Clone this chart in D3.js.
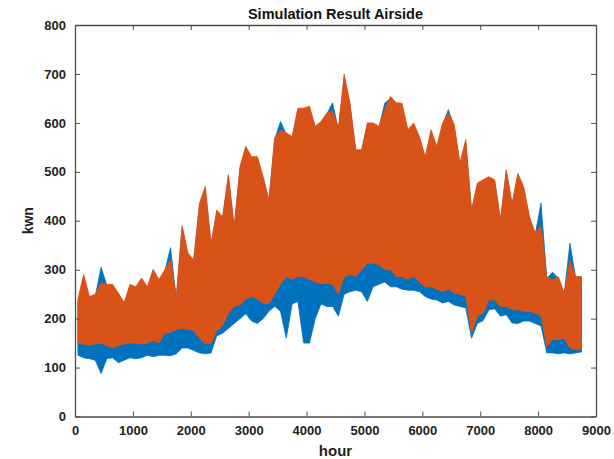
<!DOCTYPE html>
<html>
<head>
<meta charset="utf-8">
<script src="https://cdn.jsdelivr.net/npm/d3@7"></script>
<style>
  html, body { margin: 0; padding: 0; background: #fff; }
  svg { display: block; font-family: "Liberation Sans", Arial, sans-serif; }
</style>
</head>
<body>
<svg id="chart" width="614" height="459"></svg>
<script>
// Hourly load, summarised per 100-hour block (block start hour = index * 100)
const blockHours = 100;

// Simulated airside load (orange): block high and low, kWh
const simHigh = [
  240, 290, 245, 250, 273, 270, 270, 252, 233, 270, 265, 283, 265, 300, 280,
  300, 320, 245, 390, 334, 320, 436, 470, 354, 422, 408, 494, 388, 511, 552,
  531, 531, 490, 443, 570, 585, 580, 572, 630, 630, 634, 593, 603, 620, 625,
  590, 700, 641, 545, 545, 600, 600, 593, 627, 654, 641, 640, 586, 600, 572,
  531, 586, 552, 600, 620, 597, 518, 566, 422, 477, 484, 490, 484, 402, 504,
  436, 497, 470, 409, 375, 390, 286, 279, 286, 252, 320, 286, 286
];
const simLow = [
  150, 148, 145, 148, 150, 145, 140, 145, 148, 150, 150, 148, 150, 155, 150,
  170, 172, 178, 180, 178, 175, 160, 148, 150, 175, 185, 211, 225, 228, 240,
  245, 240, 231, 231, 250, 270, 286, 280, 286, 286, 280, 275, 272, 272, 270,
  250, 285, 290, 286, 300, 313, 313, 310, 300, 300, 286, 286, 280, 286, 275,
  265, 265, 260, 255, 260, 252, 250, 245, 170, 205, 211, 238, 238, 225, 225,
  218, 218, 215, 215, 211, 205, 143, 157, 157, 160, 140, 136, 138
];

// Measured airside load (blue): block high and low, kWh
const refHigh = [
  232, 285, 240, 245, 305, 268, 265, 250, 230, 268, 262, 280, 262, 300, 276,
  296, 345, 240, 385, 330, 318, 430, 465, 350, 418, 404, 490, 385, 505, 548,
  528, 528, 486, 440, 566, 603, 576, 568, 626, 628, 630, 590, 600, 618, 641,
  586, 690, 636, 542, 540, 596, 596, 590, 640, 650, 636, 632, 582, 596, 568,
  528, 580, 548, 596, 627, 592, 515, 560, 420, 472, 480, 486, 480, 400, 500,
  432, 492, 466, 405, 372, 436, 282, 295, 282, 250, 354, 282, 282
];
const refLow = [
  125, 120, 118, 115, 88, 118, 120, 110, 115, 120, 118, 120, 125, 122, 125,
  125, 124, 128, 140, 140, 135, 130, 128, 130, 165, 170, 180, 190, 200, 210,
  195, 190, 200, 215, 225, 215, 160, 230, 235, 150, 150, 200, 230, 225, 225,
  205, 250, 255, 258, 255, 235, 265, 270, 275, 265, 265, 260, 258, 258, 255,
  245, 240, 238, 232, 235, 228, 225, 222, 160, 190, 196, 218, 220, 205, 208,
  191, 190, 195, 195, 190, 185, 130, 130, 128, 130, 128, 130, 132
];

const xTicks = [0, 1000, 2000, 3000, 4000, 5000, 6000, 7000, 8000, 9000];
const yTicks = [0, 100, 200, 300, 400, 500, 600, 700, 800];

const chartTitle = "Simulation Result Airside";
const xTitle = "hour";
const yTitle = "kwn";

const margin = { left: 75, right: 18, top: 25, bottom: 42.5 };
const W = 614, H = 459;
const svg = d3.select("#chart");

const x = d3.scaleLinear().domain([0, 9000]).range([margin.left, W - margin.right]);
const y = d3.scaleLinear().domain([0, 800]).range([H - margin.bottom, margin.top]);

function blocks(hi, lo) {
  return hi.map((h, i) => ({ t: i * blockHours, hi: h, lo: lo[i] }));
}

// Low-to-high band through each block's midpoint
function drawSeries(data, color) {
  const area = d3.area()
    .x(d => x(d.t + blockHours / 2))
    .y0(d => y(d.lo))
    .y1(d => y(d.hi));
  svg.append("path").datum(data)
    .attr("d", area)
    .attr("fill", color)
    .attr("stroke", color)
    .attr("stroke-width", 0.8)
    .attr("stroke-linejoin", "miter");
}

drawSeries(blocks(refHigh, refLow), "#0072BD");
drawSeries(blocks(simHigh, simLow), "#D95319");

// Box axes, ticks pointing inward on all sides
const axisColor = "#4d4d4d";
const tickLen = 5;
const gAx = svg.append("g");
const fmt = d3.format("d");

const xAxisB = d3.axisBottom(x).tickValues(xTicks).tickFormat(fmt).tickSizeInner(-tickLen).tickSizeOuter(0).tickPadding(9);
const gxb = gAx.append("g").attr("transform", `translate(0,${y(0)})`).call(xAxisB);
const xAxisT = d3.axisTop(x).tickValues(xTicks).tickSizeInner(-tickLen).tickSizeOuter(0).tickFormat("");
const gxt = gAx.append("g").attr("transform", `translate(0,${y(800)})`).call(xAxisT);
const yAxisL = d3.axisLeft(y).tickValues(yTicks).tickFormat(fmt).tickSizeInner(-tickLen).tickSizeOuter(0).tickPadding(9);
const gyl = gAx.append("g").attr("transform", `translate(${x(0)},0)`).call(yAxisL);
const yAxisR = d3.axisRight(y).tickValues(yTicks).tickSizeInner(-tickLen).tickSizeOuter(0).tickFormat("");
const gyr = gAx.append("g").attr("transform", `translate(${x(9000)},0)`).call(yAxisR);

[gxb, gxt, gyl, gyr].forEach(g => {
  g.selectAll(".domain").attr("stroke", axisColor).attr("stroke-width", 1.3);
  g.selectAll(".tick line").attr("stroke", axisColor).attr("stroke-width", 1);
  g.selectAll(".tick text")
    .attr("fill", "#222")
    .attr("font-size", 13)
    .attr("font-weight", "bold")
    .attr("font-family", "'Liberation Sans', Arial, sans-serif");
});

svg.append("text")
  .attr("x", (x(0) + x(9000)) / 2)
  .attr("y", 19)
  .attr("text-anchor", "middle")
  .attr("font-size", 14.5)
  .attr("font-weight", "bold")
  .attr("fill", "#111")
  .text(chartTitle);

svg.append("text")
  .attr("x", (x(0) + x(9000)) / 2)
  .attr("y", 456)
  .attr("text-anchor", "middle")
  .attr("font-size", 15)
  .attr("font-weight", "bold")
  .attr("fill", "#222")
  .text(xTitle);

svg.append("text")
  .attr("transform", `translate(33,${(y(0) + y(800)) / 2}) rotate(-90)`)
  .attr("text-anchor", "middle")
  .attr("font-size", 14)
  .attr("font-weight", "bold")
  .attr("fill", "#222")
  .text(yTitle);
</script>
</body>
</html>
